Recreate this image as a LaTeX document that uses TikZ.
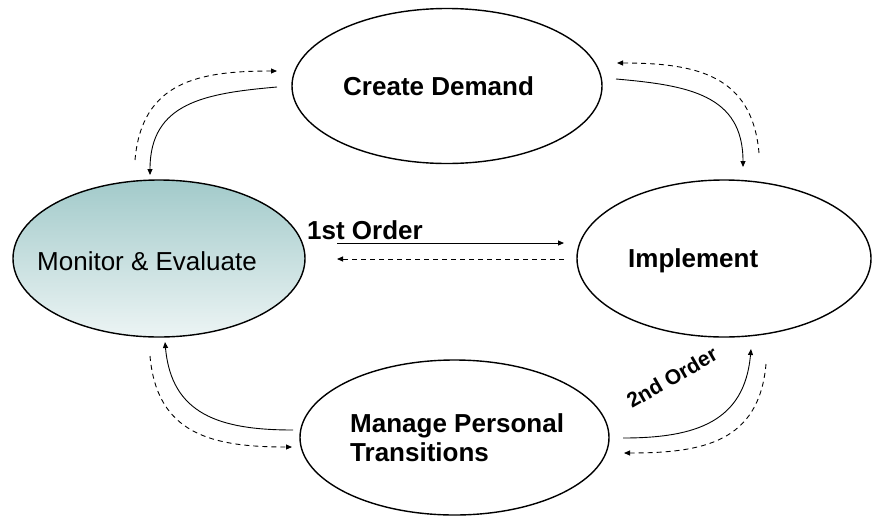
\documentclass[tikz,border=0pt]{standalone}
\usepackage{fontspec}
\setmainfont{Liberation Sans}
\usetikzlibrary{shapes.geometric,arrows.meta}
\definecolor{tealtop}{RGB}{162,202,202}
\definecolor{tealbot}{RGB}{236,244,244}
\begin{document}
\begin{tikzpicture}[x=1pt,y=-1pt,
  bubble/.style={ellipse,draw=black,line width=1.4pt,inner sep=0pt},
  caption/.style={font=\fontsize{26}{30}\selectfont\bfseries,inner sep=0pt,anchor=base west},
  plaincaption/.style={font=\fontsize{26}{30}\selectfont,inner sep=0pt,anchor=base west},
  flow/.style={line width=0.9pt,-{Triangle[length=6pt,width=5pt]}},
  backflow/.style={flow,dash pattern=on 5pt off 4pt}]
\useasboundingbox (0,0) rectangle (872,517);

% the four stages of the cycle
\node[bubble,minimum width=310pt,minimum height=155pt] (cd) at (447,86) {};
\node[bubble,minimum width=292pt,minimum height=157pt,
      top color=tealtop,bottom color=tealbot] (me) at (159,258.5) {};
\node[bubble,minimum width=294pt,minimum height=157pt] (im) at (724,258.5) {};
\node[bubble,minimum width=309pt,minimum height=155pt] (mp) at (454.5,437.5) {};

\node[caption] (cdt) at (343,95) {Create Demand};
\node[plaincaption] (met) at (37,270) {Monitor \& Evaluate};
\node[caption] (imt) at (628,267) {Implement};
\node[caption,align=left,anchor=north west] (mpt) at (350,413) {Manage Personal\\[-0.6pt]Transitions};
\node[caption] (o1) at (307,239) {1st Order};
\node[font=\fontsize{21}{25}\selectfont\bfseries,inner sep=0pt,anchor=base west,rotate=30] (o2) at (632,409) {2nd Order};

% free ends of the connectors
\coordinate (a1) at (277,87);   \coordinate (a2) at (150,175);
\coordinate (a3) at (135,160);  \coordinate (a4) at (277,71);
\coordinate (b1) at (616,79);   \coordinate (b2) at (743,167);
\coordinate (b3) at (759,153);  \coordinate (b4) at (617,63);
\coordinate (c1) at (337,243);  \coordinate (c2) at (564,243);
\coordinate (c3) at (564,259);  \coordinate (c4) at (337,259);
\coordinate (d1) at (623,438);  \coordinate (d2) at (751,349);
\coordinate (d3) at (766,364);  \coordinate (d4) at (624,453);
\coordinate (e1) at (293,430);  \coordinate (e2) at (165,342);
\coordinate (e3) at (150,356);  \coordinate (e4) at (292,447);

% Create Demand <-> Monitor & Evaluate
\draw[flow] (a1) to[out=185,in=90,looseness=1.2] (a2);
\draw[backflow] (a3) to[out=85,in=180,looseness=1.2] (a4);
% Create Demand <-> Implement
\draw[flow] (b1) to[out=-5,in=90,looseness=1.2] (b2);
\draw[backflow] (b3) to[out=95,in=0,looseness=1.2] (b4);
% first order loop
\draw[flow] (c1) -- (c2);
\draw[backflow] (c3) -- (c4);
% Manage Personal Transitions <-> Implement
\draw[flow] (d1) to[out=0,in=-95,looseness=1.2] (d2);
\draw[backflow] (d3) to[out=-95,in=0,looseness=1.2] (d4);
% Manage Personal Transitions <-> Monitor & Evaluate
\draw[flow] (e1) to[out=180,in=-85,looseness=1.2] (e2);
\draw[backflow] (e3) to[out=-85,in=180,looseness=1.2] (e4);
\end{tikzpicture}
\end{document}
